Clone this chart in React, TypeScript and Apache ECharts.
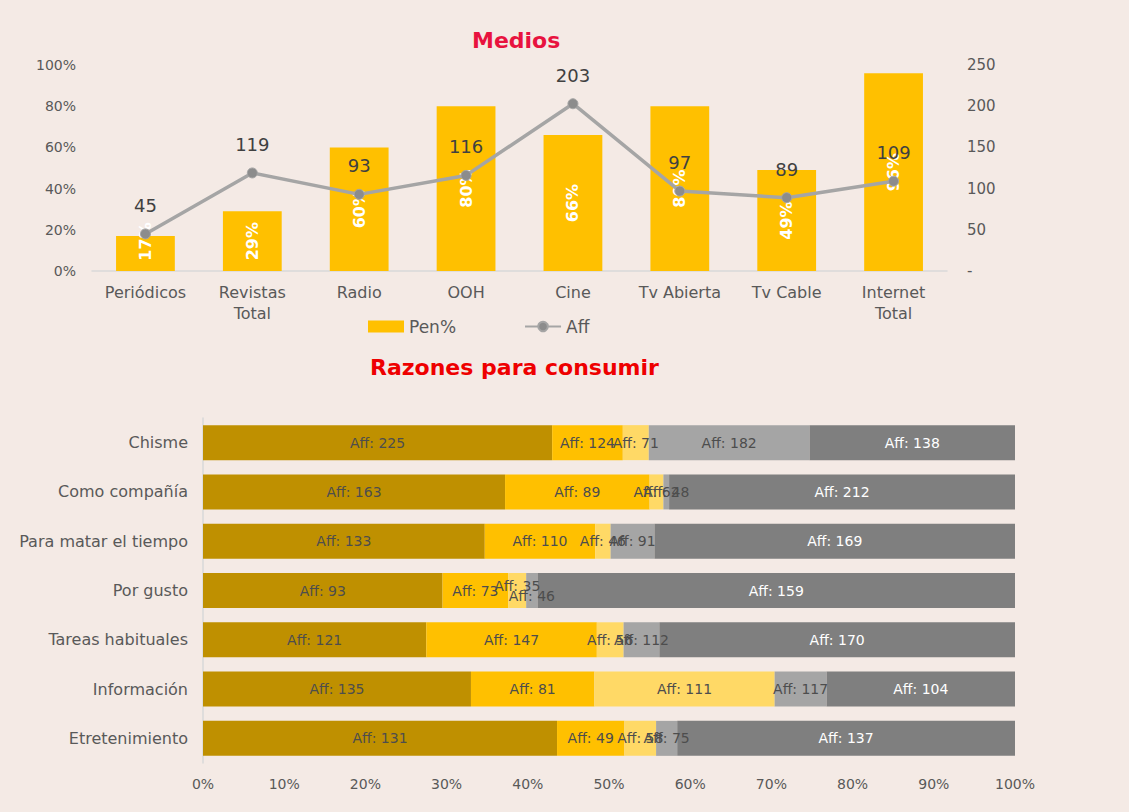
import React, { useEffect, useRef } from 'react';
import * as echarts from 'echarts';

// ---- Medios (top chart) ----
const mediosCats = ['Periódicos', 'Revistas\nTotal', 'Radio', 'OOH', 'Cine', 'Tv Abierta', 'Tv Cable', 'Internet\nTotal'];
const penPct = [17, 29, 60, 80, 66, 80, 49, 96];
const affMedios = [45, 119, 93, 116, 203, 97, 89, 109];

// ---- Razones para consumir (bottom chart) ----
const razonesCats = ['Chisme', 'Como compañía', 'Para matar el tiempo', 'Por gusto', 'Tareas habituales', 'Información', 'Etretenimiento'];
const share1 = [43.0, 37.2, 34.7, 29.5, 27.5, 33.0, 43.6];
const share2 = [8.7, 17.8, 13.6, 8.1, 21.0, 15.2, 8.3];
const share3 = [3.2, 1.7, 1.9, 2.2, 3.3, 22.2, 3.9];
const share4 = [19.8, 0.7, 5.4, 1.4, 4.4, 6.4, 2.6];
const share5 = [25.3, 42.6, 44.4, 58.8, 43.8, 23.2, 41.6];
const aff1 = [225, 163, 133, 93, 121, 135, 131];
const aff2 = [124, 89, 110, 73, 147, 81, 49];
const aff3 = [71, 62, 46, 35, 56, 111, 58];
const aff4 = [182, 48, 91, 46, 112, 117, 75];
const aff5 = [138, 212, 169, 159, 170, 104, 137];

const FONT = '"DejaVu Sans", sans-serif';
const TXT = '#595959';
const BG = '#F4EAE5';

const shares = [share1, share2, share3, share4, share5];
const affs = [aff1, aff2, aff3, aff4, aff5];
const segColors = ['#BF9000', '#FFC000', '#FFD966', '#A5A5A5', '#7F7F7F'];
const segNames = ['Grupo 1', 'Grupo 2', 'Grupo 3', 'Grupo 4', 'Grupo 5'];
// small label nudges (Excel overlap avoidance) : key `${series}-${index}` -> y offset
const labelNudge: Record<string, number> = { '2-3': -5, '3-3': 5 };
// top chart: short bar whose label Excel lifts so it fits (offset in the rotated label's frame)
const penNudge: Record<number, number> = { 0: 12 };

function buildOption(): any {
  const stackSeries = shares.map((arr, s) => ({
    name: segNames[s],
    type: 'bar',
    stack: 'razones',
    xAxisIndex: 1,
    yAxisIndex: 2,
    barCategoryGap: '29%',
    itemStyle: { color: segColors[s] },
    label: {
      show: true,
      position: 'inside',
      fontFamily: FONT,
      fontSize: 14,
      color: s === 4 ? '#FFFFFF' : '#4D4D4D',
      formatter: (p: any) => `Aff: ${affs[s][p.dataIndex]}`,
    },
    data: arr.map((v, i) => {
      const k = `${s}-${i}`;
      return labelNudge[k] !== undefined
        ? { value: v, label: { offset: [0, labelNudge[k]] } }
        : v;
    }),
  }));

  return {
    animation: false,
    backgroundColor: BG,
    textStyle: { fontFamily: FONT },
    title: [
      {
        text: 'Medios',
        left: 472,
        top: 29,
        padding: 0,
        textStyle: { fontFamily: FONT, fontSize: 22, fontWeight: 'bold', color: '#E8133F' },
      },
      {
        text: 'Razones para consumir',
        left: 370,
        top: 356,
        padding: 0,
        textStyle: { fontFamily: FONT, fontSize: 22, fontWeight: 'bold', color: '#EE0000' },
      },
    ],
    legend: {
      left: 368,
      top: 318,
      padding: 0,
      itemWidth: 36,
      itemHeight: 12,
      itemGap: 68,
      textStyle: { fontFamily: FONT, fontSize: 17, color: TXT },
      data: [{ name: 'Pen%', icon: 'rect' }, { name: 'Aff' }],
    },
    grid: [
      { left: 92, right: 182, top: 65, height: 206 },
      { left: 203, right: 114, top: 418, height: 345 },
    ],
    xAxis: [
      {
        type: 'category',
        gridIndex: 0,
        data: mediosCats,
        axisTick: { show: false },
        axisLine: { lineStyle: { color: '#D9D9D9', width: 1.5 } },
        axisLabel: { interval: 0, fontFamily: FONT, fontSize: 16, color: TXT, lineHeight: 21, margin: 11 },
      },
      {
        type: 'value',
        gridIndex: 1,
        min: 0,
        max: 100,
        interval: 10,
        splitLine: { show: false },
        axisLine: { show: false },
        axisTick: { show: false },
        axisLabel: { formatter: '{value}%', fontFamily: FONT, fontSize: 14, color: TXT, margin: 14 },
      },
    ],
    yAxis: [
      {
        type: 'value',
        gridIndex: 0,
        min: 0,
        max: 100,
        interval: 20,
        splitLine: { show: false },
        axisLine: { show: false },
        axisTick: { show: false },
        axisLabel: { formatter: '{value}%', fontFamily: FONT, fontSize: 14, color: TXT, margin: 16 },
      },
      {
        type: 'value',
        gridIndex: 0,
        position: 'right',
        min: 0,
        max: 250,
        interval: 50,
        splitLine: { show: false },
        axisLine: { show: false },
        axisTick: { show: false },
        axisLabel: {
          formatter: (v: number) => (v === 0 ? '-' : String(v)),
          fontFamily: FONT,
          fontSize: 15,
          color: TXT,
          margin: 20,
        },
      },
      {
        type: 'category',
        gridIndex: 1,
        inverse: true,
        data: razonesCats,
        axisTick: { show: false },
        axisLine: { lineStyle: { color: '#D9D9D9', width: 1.5 } },
        axisLabel: { fontFamily: FONT, fontSize: 16, color: TXT, margin: 15 },
      },
    ],
    series: [
      {
        name: 'Pen%',
        type: 'bar',
        xAxisIndex: 0,
        yAxisIndex: 0,
        barCategoryGap: '45%',
        itemStyle: { color: '#FFC000' },
        label: {
          show: true,
          position: 'inside',
          rotate: 90,
          fontFamily: FONT,
          fontSize: 16,
          fontWeight: 'bold',
          color: '#FFFFFF',
          formatter: '{c}%',
        },
        data: penPct.map((v, i) =>
          penNudge[i] !== undefined ? { value: v, label: { offset: [penNudge[i], 0] } } : v
        ),
      },
      {
        name: 'Aff',
        type: 'line',
        xAxisIndex: 0,
        yAxisIndex: 1,
        z: 5,
        symbol: 'circle',
        symbolSize: 10,
        color: '#A5A5A5',
        lineStyle: { color: '#A5A5A5', width: 3.5 },
        itemStyle: { color: '#8C8C8C', borderColor: '#A5A5A5', borderWidth: 1 },
        label: {
          show: true,
          position: 'top',
          distance: 14,
          fontFamily: FONT,
          fontSize: 18,
          color: '#404040',
        },
        data: affMedios,
      },
      ...stackSeries,
    ],
  };
}

export default function App() {
  const ref = useRef<HTMLDivElement>(null);
  useEffect(() => {
    document.body.style.margin = '0';
    document.body.style.background = BG;
    const chart = echarts.init(ref.current!, null, { renderer: 'svg' });
    chart.setOption(buildOption());
    return () => chart.dispose();
  }, []);
  return <div ref={ref} style={{ width: 1129, height: 812 }} />;
}
